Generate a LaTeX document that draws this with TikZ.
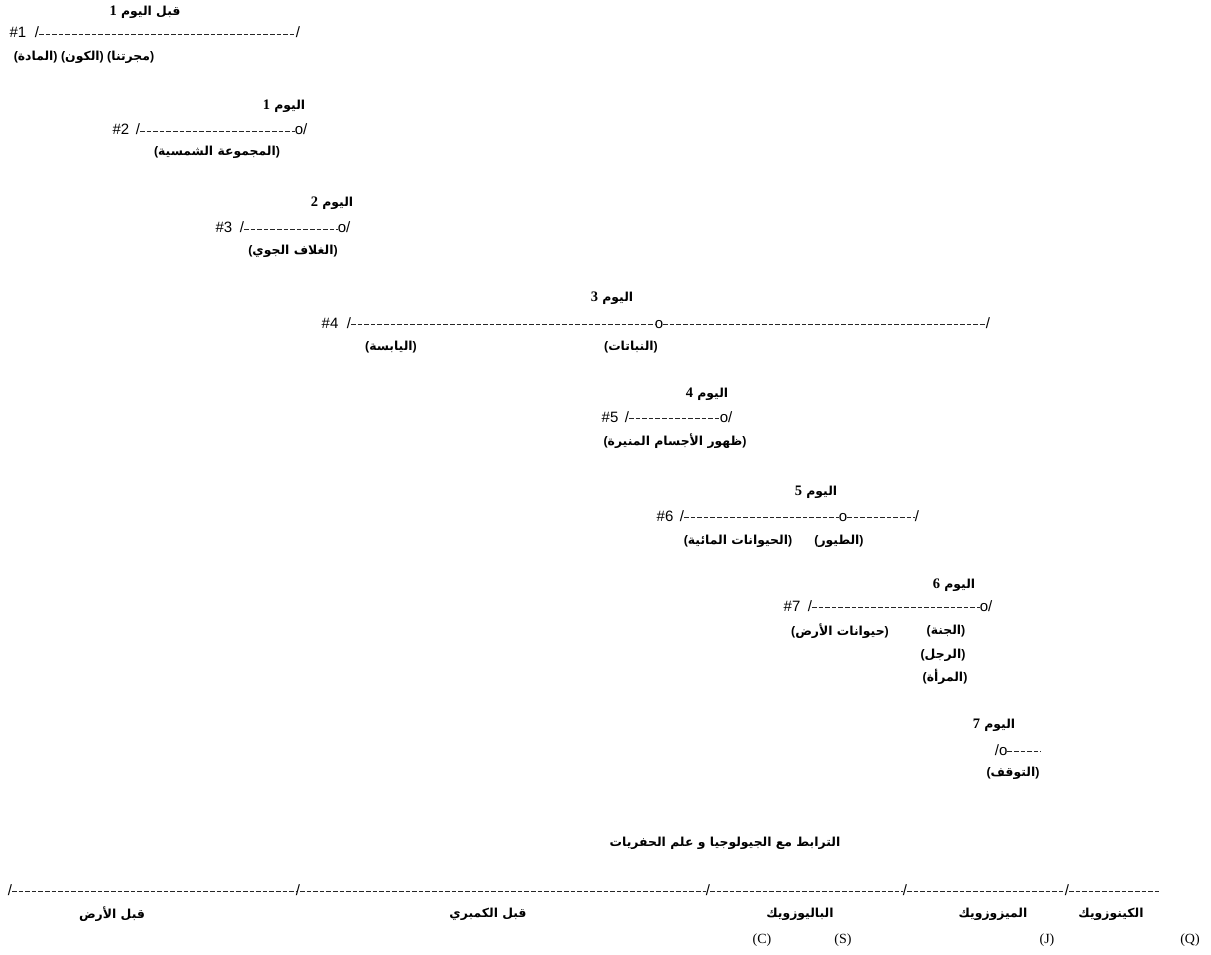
\documentclass[tikz,border=0pt]{standalone}
\usepackage{fontspec}
\setmainfont{Liberation Sans}
\newfontfamily\arfont[Script=Arabic]{DejaVu Sans}
\newfontfamily\serfont{Liberation Serif}
\TeXXeTstate=1
\newcommand\AR[1]{{\arfont\bfseries\beginR #1\endR}}
\newcommand\PA[1]{\textbf{(}\AR{#1}\textbf{)}}
\newcommand\dnum[1]{{\serfont\bfseries\fontsize{14.5}{16}\selectfont #1}}
\begin{document}
\begin{tikzpicture}[x=1pt,y=-1pt,
  every node/.style={inner sep=0pt, outer sep=0pt},
  ar/.style={font=\fontsize{12.4}{14}\selectfont},
  mk/.style={font=\fontsize{15}{17}\selectfont, anchor=base},
  nx/.style={font=\fontsize{15}{17}\selectfont, anchor=base west},
  ltr/.style={font=\serfont\fontsize{14}{16}\selectfont},
  dl/.style={draw=black!85, line width=0.8pt, dash pattern=on 4.6pt off 2pt},
]
\path[use as bounding box] (0,0) rectangle (1211,955);
% row 1
\node[ar] (t1) at (145,12) {\AR{قبل اليوم \dnum{1}}};
\node[mk] (h1) at (18,38) {\#1};
\node[mk] (a1) at (37,38) {/};
\node[mk] (b1) at (298,38) {/};
\draw[dl] ([yshift=4pt]a1.base east) -- ([yshift=4pt]b1.base west);
\node[ar] (l1) at (84,57) {\PA{المادة} \PA{الكون} \PA{مجرتنا}};
% row 2
\node[ar] (t2) at (284,106) {\AR{اليوم \dnum{1}}};
\node[mk] (h2) at (121,135) {\#2};
\node[mk] (a2) at (138,135) {/};
\node[mk] (o2) at (299,135) {o};
\node[nx] (b2) at (o2.base east) {/};
\draw[dl] ([yshift=4pt]a2.base east) -- ([yshift=4pt]o2.base west);
\node[ar] (l2) at (217,152) {\PA{المجموعة الشمسية}};
% row 3
\node[ar] (t3) at (332,203) {\AR{اليوم \dnum{2}}};
\node[mk] (h3) at (224,233) {\#3};
\node[mk] (a3) at (242,233) {/};
\node[mk] (o3) at (342,233) {o};
\node[nx] (b3) at (o3.base east) {/};
\draw[dl] ([yshift=4pt]a3.base east) -- ([yshift=4pt]o3.base west);
\node[ar] (l3) at (293,251) {\PA{الغلاف الجوي}};
% row 4
\node[ar] (t4) at (612,298) {\AR{اليوم \dnum{3}}};
\node[mk] (h4) at (330,328) {\#4};
\node[mk] (a4) at (349,328) {/};
\node[mk] (o4) at (659,328) {o};
\node[mk] (b4) at (988,328) {/};
\draw[dl] ([yshift=4pt]a4.base east) -- ([yshift=4pt]o4.base west);
\draw[dl] ([yshift=4pt]o4.base east) -- ([yshift=4pt]b4.base west);
\node[ar] (l4a) at (391,347) {\PA{اليابسة}};
\node[ar] (l4b) at (631,347) {\PA{النباتات}};
% row 5
\node[ar] (t5) at (707,394) {\AR{اليوم \dnum{4}}};
\node[mk] (h5) at (610,422) {\#5};
\node[mk] (a5) at (627,422) {/};
\node[mk] (o5) at (724,422) {o};
\node[nx] (b5) at (o5.base east) {/};
\draw[dl] ([yshift=4pt]a5.base east) -- ([yshift=4pt]o5.base west);
\node[ar] (l5) at (675,441) {\PA{ظهور الأجسام المنيرة}};
% row 6
\node[ar] (t6) at (816,492) {\AR{اليوم \dnum{5}}};
\node[mk] (h6) at (665,521) {\#6};
\node[mk] (a6) at (682,521) {/};
\node[mk] (o6) at (843,521) {o};
\node[mk] (b6) at (917,521) {/};
\draw[dl] ([yshift=4pt]a6.base east) -- ([yshift=4pt]o6.base west);
\draw[dl] ([yshift=4pt]o6.base east) -- ([yshift=4pt]b6.base west);
\node[ar] (l6a) at (738,541) {\PA{الحيوانات المائية}};
\node[ar] (l6b) at (839,541) {\PA{الطيور}};
% row 7
\node[ar] (t7) at (954,585) {\AR{اليوم \dnum{6}}};
\node[mk] (h7) at (792,611) {\#7};
\node[mk] (a7) at (810,611) {/};
\node[mk] (o7) at (984,611) {o};
\node[nx] (b7) at (o7.base east) {/};
\draw[dl] ([yshift=4pt]a7.base east) -- ([yshift=4pt]o7.base west);
\node[ar] (l7a) at (840,631) {\PA{حيوانات الأرض}};
\node[ar] (l7b) at (946,631) {\PA{الجنة}};
\node[ar] (l7c) at (943,655) {\PA{الرجل}};
\node[ar] (l7d) at (945,677) {\PA{المرأة}};
% row 8
\node[ar] (t8) at (994,725) {\AR{اليوم \dnum{7}}};
\node[mk] (a8) at (997,755) {/};
\node[nx] (o8) at (a8.base east) {o};
\coordinate (e8) at (1041,751);
\draw[dl] ([yshift=4pt]o8.base east) -- ([yshift=4pt]o8.base east -| e8);
\node[ar] (l8) at (1013,773) {\PA{التوقف}};
% geology
\node[ar] (tt) at (725,843) {\AR{الترابط مع الجيولوجيا و علم الحفريات}};
\node[mk] (g0) at (10,895) {/};
\node[mk] (g1) at (298,895) {/};
\node[mk] (g2) at (708,895) {/};
\node[mk] (g3) at (905,895) {/};
\node[mk] (g4) at (1067,895) {/};
\coordinate (ge) at (1160,891);
\draw[dl] ([yshift=4pt]g0.base east) -- ([yshift=4pt]g1.base west);
\draw[dl] ([yshift=4pt]g1.base east) -- ([yshift=4pt]g2.base west);
\draw[dl] ([yshift=4pt]g2.base east) -- ([yshift=4pt]g3.base west);
\draw[dl] ([yshift=4pt]g3.base east) -- ([yshift=4pt]g4.base west);
\draw[dl] ([yshift=4pt]g4.base east) -- ([yshift=4pt]g4.base east -| ge);
\node[ar] (p0) at (112,914) {\AR{قبل الأرض}};
\node[ar] (p1) at (488,914) {\AR{قبل الكمبري}};
\node[ar] (p2) at (800,914) {\AR{الباليوزويك}};
\node[ar] (p3) at (993,914) {\AR{الميزوزويك}};
\node[ar] (p4) at (1111,914) {\AR{الكينوزويك}};
\node[ltr] (c1) at (762,940) {(C)};
\node[ltr] (c2) at (843,940) {(S)};
\node[ltr] (c3) at (1047,940) {(J)};
\node[ltr] (c4) at (1190,940) {(Q)};
\end{tikzpicture}
\end{document}
